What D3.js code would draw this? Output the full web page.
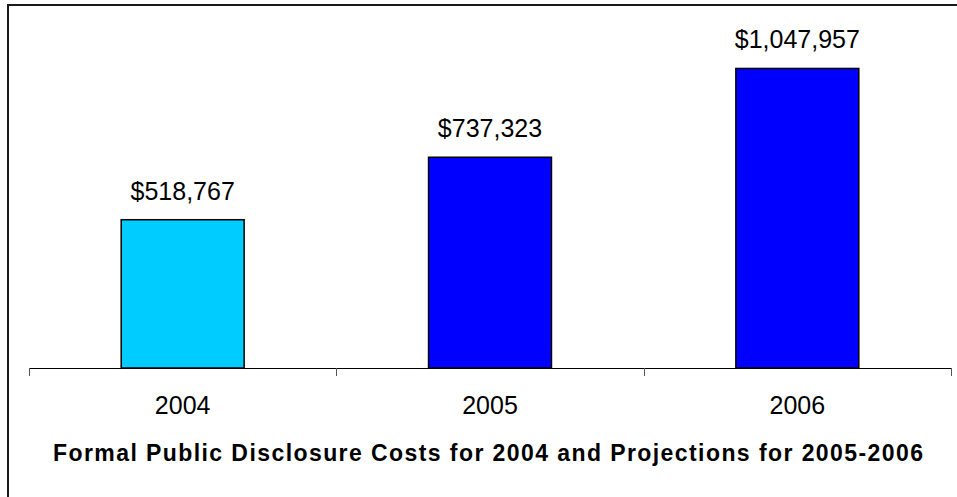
<!DOCTYPE html>
<html>
<head>
<meta charset="utf-8">
<style type="text/css">
    body { margin: 0; background: #fff; }
    svg { display: block; font-family: "Liberation Sans", Arial, sans-serif; }
    .bar { stroke: #000; stroke-width: 1.5; }
    .value { font-size: 25px; text-anchor: middle; fill: #000; }
    .axis text { font-size: 25px; fill: #000; }
</style>
</head>
<body>
<script src="https://d3js.org/d3.v7.min.js"></script>
<script type="text/javascript">

    var years = ["2004", "2005", "2006"];
    var costs = [518767, 737323, 1047957];
    var barColors = ["#00ccff", "#0000ff", "#0000ff"];
    var title = "Formal Public Disclosure Costs for 2004 and Projections for 2005-2006";

    var width = 957, height = 497;
    var plot = { left: 29, right: 951, top: 25, bottom: 368 };

    var svg = d3.select("body").append("svg")
        .attr("width", width)
        .attr("height", height);

    // frame (only top and left edges are visible in the crop)
    svg.append("path")
        .attr("d", "M8,497 V5 H957")
        .attr("fill", "none")
        .attr("stroke", "#1a1a1a")
        .attr("stroke-width", 2);

    var x = d3.scaleBand()
        .domain(years)
        .range([plot.left, plot.right])
        .paddingInner(0.6)
        .paddingOuter(0.3);

    var y = d3.scaleLinear()
        .domain([0, 1200000])
        .range([plot.bottom, plot.top]);

    // bars
    svg.append("g")
        .selectAll("rect")
        .data(years)
        .enter().append("rect")
        .attr("class", "bar")
        .attr("x", function (d) { return x(d); })
        .attr("width", x.bandwidth())
        .attr("y", function (d, i) { return y(costs[i]); })
        .attr("height", function (d, i) { return y(0) - y(costs[i]); })
        .attr("fill", function (d, i) { return barColors[i]; });

    // value labels
    svg.append("g")
        .selectAll("text")
        .data(years)
        .enter().append("text")
        .attr("class", "value")
        .attr("x", function (d) { return x(d) + x.bandwidth() / 2; })
        .attr("y", function (d, i) { return y(costs[i]) - 20; })
        .text(function (d, i) { return "$" + d3.format(",")(costs[i]); });

    // x axis: ticks sit on the category boundaries
    var step = x.step();
    var bounds = d3.range(years.length + 1).map(function (i) { return plot.left + i * step; });

    var axis = svg.append("g").attr("class", "axis");
    axis.append("line")
        .attr("x1", plot.left).attr("x2", plot.right)
        .attr("y1", plot.bottom + 0.5).attr("y2", plot.bottom + 0.5)
        .attr("stroke", "#000");
    axis.selectAll(".tick")
        .data(bounds)
        .enter().append("line")
        .attr("x1", function (d) { return Math.round(d) + 0.5; })
        .attr("x2", function (d) { return Math.round(d) + 0.5; })
        .attr("y1", plot.bottom)
        .attr("y2", plot.bottom + 8)
        .attr("stroke", "#555");
    axis.selectAll("text")
        .data(years)
        .enter().append("text")
        .attr("x", function (d) { return x(d) + x.bandwidth() / 2; })
        .attr("y", 414)
        .attr("text-anchor", "middle")
        .text(function (d) { return d; });

    // title under the axis
    svg.append("text")
        .attr("x", 488)
        .attr("y", 461)
        .attr("text-anchor", "middle")
        .style("font-size", "23px")
        .style("font-weight", "bold")
        .attr("textLength", 870)
        .attr("lengthAdjust", "spacing")
        .text(title);

</script>
</body>
</html>
